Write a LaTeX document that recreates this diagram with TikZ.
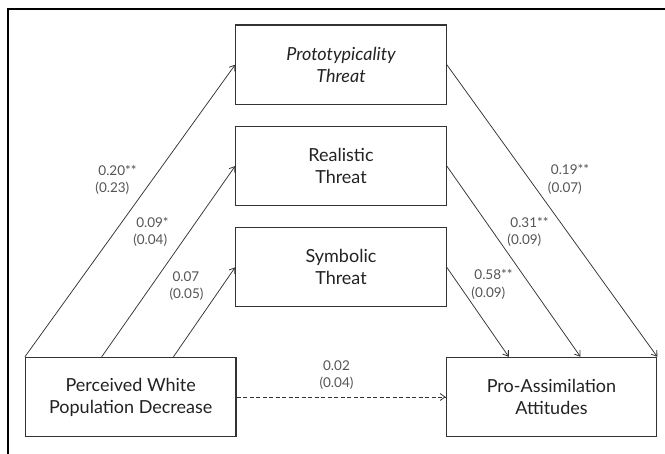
\documentclass[tikz,border=0pt]{standalone}
\usepackage{fontspec}
\setmainfont{Lato}
\usetikzlibrary{arrows.meta,calc}
\definecolor{boxtext}{HTML}{222222}
\definecolor{labtext}{HTML}{555555}
\definecolor{linecol}{HTML}{333333}
\tikzset{
  varbox/.style={draw=linecol, line width=1.1pt, minimum width=210.5pt, minimum height=79.3pt,
    align=center, font=\fontsize{18}{22}\selectfont, text=boxtext, inner sep=0pt},
  path/.style={draw=linecol, line width=0.75pt, -{Straight Barb[length=5pt,width=7pt,line width=0.8pt]}},
  coef/.style={font=\fontsize{13.5}{17.5}\selectfont, text=labtext, align=left, inner sep=0pt},
  frameline/.style={draw=black, line width=2pt}
}
\begin{document}
\begin{tikzpicture}[x=1pt,y=-1pt]
\useasboundingbox (0,0) rectangle (665,454);
% frame
\coordinate (fa) at (665,9.5);
\coordinate (fb) at (7.6,9.5);
\coordinate (fc) at (7.6,454);
\draw[frameline] (fa) -- (fb) -- (fc);
% boxes
\node[varbox] (proto) at (341,64.7) {\itshape Prototypicality\\\itshape Threat};
\node[varbox] (real) at (341,166) {Realistic\\Threat};
\node[varbox] (sym) at (341,267.3) {Symbolic\\Threat};
\node[varbox] (perc) at (130.7,397) {Perceived White\\Population Decrease};
\node[varbox] (pro) at (551.5,397) {Pro-Assimilation\\Attitudes};
% connectors
\draw[path] (perc.north west) -- (proto.west);
\draw[path] ($(perc.north west)!0.363!(perc.north east)$) -- (real.west);
\draw[path] ($(perc.north west)!0.702!(perc.north east)$) -- (sym.west);
\draw[path] (proto.east) -- (pro.north east);
\draw[path] (real.east) -- ($(pro.north west)!0.637!(pro.north east)$);
\draw[path] (sym.east) -- ($(pro.north west)!0.298!(pro.north east)$);
\draw[path, dashed, dash pattern=on 4pt off 2.5pt] (perc.east) -- (pro.west);
% coefficients
\node[coef] (c1) at (116,180) {\hspace*{3pt}0.20**\\(0.23)};
\node[coef] (c2) at (151,232) {\hspace*{3pt}0.09*\\(0.04)};
\node[coef] (c3) at (186.5,286) {\hspace*{3pt}0.07\\(0.05)};
\node[coef] (c4) at (568.5,179.5) {\hspace*{3pt}0.19**\\(0.07)};
\node[coef] (c5) at (528,232) {\hspace*{3pt}0.31**\\(0.09)};
\node[coef] (c6) at (492,284.5) {\hspace*{3pt}0.58**\\(0.09)};
\node[coef, align=center] (c7) at (336.5,375) {0.02\\(0.04)};
\end{tikzpicture}
\end{document}
